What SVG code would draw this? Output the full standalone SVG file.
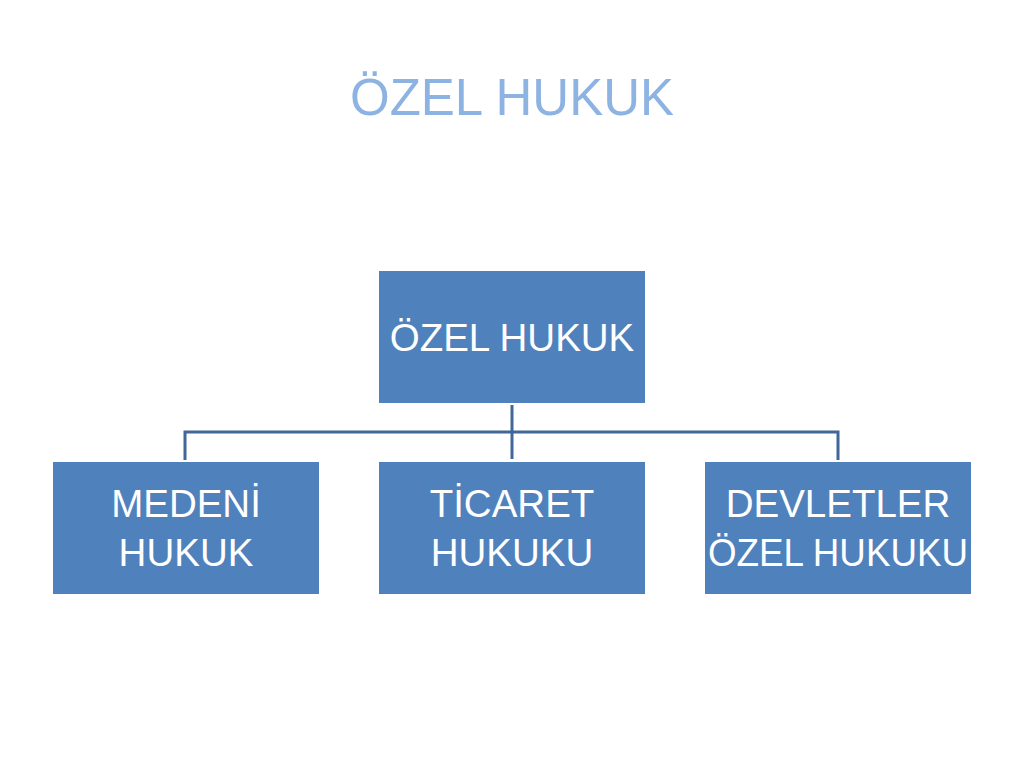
<svg xmlns="http://www.w3.org/2000/svg" width="1024" height="768" viewBox="0 0 1024 768">
<style>
.box{fill:#4f81bd;}
.lbl{font-family:"Liberation Sans","Arial",sans-serif;font-size:38.5px;fill:#ffffff;text-anchor:middle;}
.title{font-family:"Liberation Sans","Arial",sans-serif;font-size:51px;fill:#8db3e2;text-anchor:middle;}
.conn{fill:none;stroke:#41669a;stroke-width:3;}
</style>
<rect width="1024" height="768" fill="#ffffff"/>
<text class="title" x="512" y="115">ÖZEL HUKUK</text>
<g id="connectors">
<path class="conn" d="M512,405 V459"/>
<path class="conn" d="M185,460 V432 H838 V460"/>
</g>
<g id="node-root">
<rect class="box" x="379" y="271" width="266" height="132"/>
<text class="lbl" x="512" y="351">ÖZEL HUKUK</text>
</g>
<g id="node-medeni">
<rect class="box" x="53" y="462" width="266" height="132"/>
<text class="lbl" x="186" y="517">MEDENİ</text>
<text class="lbl" x="186" y="566">HUKUK</text>
</g>
<g id="node-ticaret">
<rect class="box" x="379" y="462" width="266" height="132"/>
<text class="lbl" x="512" y="517">TİCARET</text>
<text class="lbl" x="512" y="566">HUKUKU</text>
</g>
<g id="node-devletler">
<rect class="box" x="705" y="462" width="266" height="132"/>
<text class="lbl" x="838" y="517">DEVLETLER</text>
<text class="lbl" x="838" y="566" textLength="260" lengthAdjust="spacingAndGlyphs">ÖZEL HUKUKU</text>
</g>
</svg>
